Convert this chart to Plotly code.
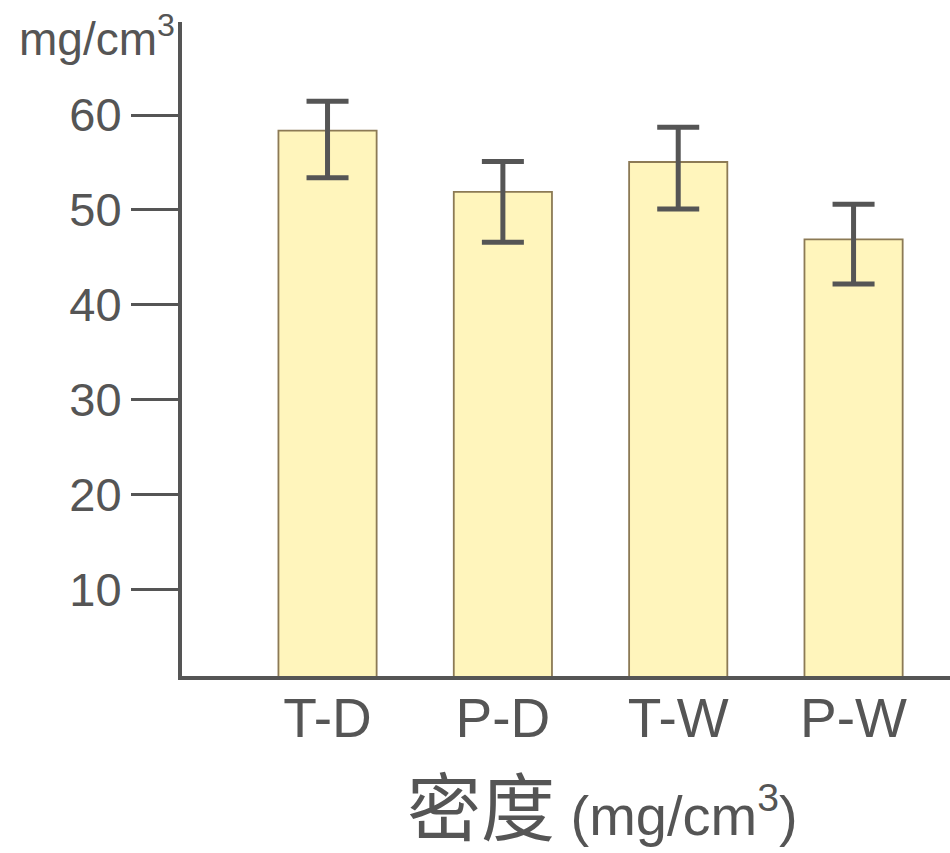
import plotly.graph_objects as go

categories = ["T-D", "P-D", "T-W", "P-W"]
values = [58.35, 51.9, 55.05, 46.9]
err_plus = [3.1, 3.2, 3.65, 3.7]
err_minus = [4.95, 5.3, 4.95, 4.7]
y_ticks = [10, 20, 30, 40, 50, 60]

grey = "#555555"

fig = go.Figure()
fig.add_trace(go.Bar(
    x=categories, y=values, width=0.56,
    marker=dict(color="#FFF5BC", line=dict(color="#8C7A55", width=1.8)),
    error_y=dict(type="data", symmetric=False, array=err_plus, arrayminus=err_minus,
                 color=grey, thickness=5, width=21),
))

fig.update_layout(
    width=950, height=853,
    margin=dict(l=182, r=0, t=22, b=177, autoexpand=False),
    paper_bgcolor="white", plot_bgcolor="white",
    showlegend=False,
    font=dict(family="Liberation Sans, Arial, sans-serif", color=grey),
    xaxis=dict(range=[-0.83, 3.55], showline=True, linecolor=grey, linewidth=4,
               ticks="", tickfont=dict(size=55, color=grey), showgrid=False,
               ticklabelstandoff=-9, automargin=False),
    yaxis=dict(range=[0.9, 69.8], showline=True, linecolor=grey, linewidth=4,
               tickvals=y_ticks, ticks="outside", ticklen=47, tickwidth=3,
               tickcolor=grey, tickfont=dict(size=47, color=grey),
               showgrid=False, zeroline=False, automargin=False),
    annotations=[
        dict(text="mg/cm<sup>3</sup>", xref="paper", yref="paper", x=-0.007, y=0.978,
             xanchor="right", yanchor="middle", showarrow=False,
             font=dict(size=46, color=grey)),
        dict(text="<span style='font-family:Noto Sans CJK SC;font-size:74px'>密度</span> (mg/cm<sup>3</sup>)",
             xref="paper", yref="paper", x=0.548, y=-0.194, xanchor="center", yanchor="middle",
             showarrow=False,
             font=dict(size=56, color=grey, family="Liberation Sans, Arial, sans-serif")),
    ],
)

fig.write_html("out.html", config={"displayModeBar": False},
               post_script="document.body.style.margin='0';")
